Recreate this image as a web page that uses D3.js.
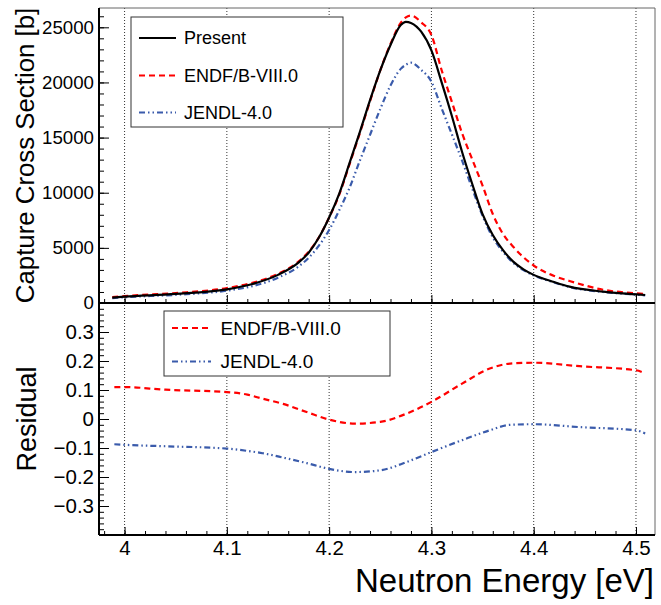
<!DOCTYPE html>
<html>
<head>
<meta charset="utf-8">
<script src="https://d3js.org/d3.v7.min.js"></script>
<style>
  body { margin: 0; background: #fff; }
  svg { display: block; font-family: "Liberation Sans", Arial, Helvetica, sans-serif; }
</style>
</head>
<body>
<svg width="661" height="605"></svg>
<script>
// energies (eV) where the cross sections were read
var energy = [3.988, 4.0, 4.05, 4.1, 4.125, 4.15, 4.17, 4.18, 4.19, 4.2, 4.21, 4.22, 4.23, 4.24, 4.25,
              4.26, 4.27, 4.275, 4.28, 4.29, 4.3, 4.31, 4.32, 4.33, 4.34, 4.35, 4.36, 4.37, 4.38, 4.39,
              4.4, 4.42, 4.435, 4.468, 4.5, 4.509];
// capture cross section [b]
var present = [490, 570, 820, 1240, 1720, 2550, 3660, 4560, 5940, 7760, 9950, 12700, 15500, 18400, 21100,
               23400, 25200, 25500, 25400, 24600, 22900, 20010, 16960, 13690, 10770, 8060, 6170, 4800, 3750, 3050,
               2550, 1900, 1480, 1030, 790, 725];
var endf = [540, 630, 900, 1350, 1830, 2650, 3750, 4650, 5950, 7750, 9850, 12600, 15400, 18300, 21100,
            23500, 25400, 25900, 26070, 25450, 24300, 21110, 18240, 15390, 13000, 10650, 8070, 6260, 5100, 4150,
            3400, 2450, 2000, 1200, 880, 815];
var jendl = [440, 520, 740, 1120, 1530, 2300, 3300, 4100, 5200, 6620, 8430, 10460, 12900, 15250, 17590,
             19720, 21230, 21600, 21790, 21140, 20070, 17650, 15300, 12900, 10350, 7900, 5950, 4650, 3650, 2980,
             2500, 1860, 1450, 1000, 760, 690];

// residuals
var resEnergy = [3.99, 4.0, 4.04, 4.1, 4.12, 4.135, 4.155, 4.178, 4.2, 4.225, 4.25, 4.276, 4.3, 4.33,
                 4.357, 4.377, 4.4, 4.445, 4.5, 4.509];
var resEndf = [0.110, 0.110, 0.101, 0.093, 0.084, 0.070, 0.052, 0.024, -0.002, -0.016, -0.010, 0.019, 0.059, 0.122,
               0.174, 0.191, 0.194, 0.182, 0.168, 0.157];
var resJendl = [-0.087, -0.089, -0.094, -0.102, -0.110, -0.118, -0.133, -0.152, -0.172, -0.183, -0.177, -0.148, -0.114, -0.073,
                -0.039, -0.020, -0.018, -0.028, -0.039, -0.050];

// tick values
var xMajor = [4.0, 4.1, 4.2, 4.3, 4.4, 4.5];
var yTopMajor = [0, 5000, 10000, 15000, 20000, 25000];
var yBotMajor = [-0.3, -0.2, -0.1, 0, 0.1, 0.2, 0.3];

var legendTop = ["Present", "ENDF/B-VIII.0", "JENDL-4.0"];
var legendBot = ["ENDF/B-VIII.0", "JENDL-4.0"];

var svg = d3.select("svg");
var font = "'Liberation Sans', Arial, Helvetica, sans-serif";

var styles = {
  "Present": {color: "#000", dash: null},
  "ENDF/B-VIII.0": {color: "#ff0000", dash: "6,4"},
  "JENDL-4.0": {color: "#3a5bab", dash: "6,3,1.5,3,1.5,3"}
};

//////////// SCALES ////////////
var padLeft = 99, padRight = 655, padTop = 8, padMid = 303, padBottom = 535;

var x = d3.scaleLinear().domain([3.975, 4.5186]).range([padLeft, padRight]);
var yTop = d3.scaleLinear().domain([0, 26750]).range([padMid, padTop]);
var yBot = d3.scaleLinear().domain([-0.4, 0.4]).range([padBottom, padMid]);

var xMinor = d3.range(3.98, 4.515, 0.02).map(function(d) { return +d.toFixed(2); });
var yTopMinor = d3.range(0, 26001, 1000);
var yBotMinor = d3.range(-0.38, 0.385, 0.02).map(function(d) { return +d.toFixed(2); });

//////////// GRID ////////////
svg.append("g")
    .selectAll("line")
    .data(xMajor)
    .enter().append("line")
    .attr("x1", function(d) { return x(d); })
    .attr("x2", function(d) { return x(d); })
    .attr("y1", padTop)
    .attr("y2", padBottom)
    .attr("stroke", "#333")
    .attr("stroke-width", 1)
    .attr("stroke-dasharray", "1,2");

//////////// AXES ////////////
function styleAxis(g) {
  g.select(".domain").remove();
  g.selectAll("line").attr("stroke", "#000").attr("stroke-width", 1);
  g.selectAll("text").attr("fill", "#000").attr("font-family", font);
}

// upper y axis
svg.append("g")
    .attr("transform", "translate(" + padLeft + ",0)")
    .call(d3.axisLeft(yTop).tickValues(yTopMinor).tickSize(-5).tickFormat(""))
    .call(styleAxis);
svg.append("g")
    .attr("transform", "translate(" + padLeft + ",0)")
    .call(d3.axisLeft(yTop).tickValues(yTopMajor).tickSize(-10).tickPadding(5).tickFormat(d3.format("d")))
    .call(styleAxis)
    .selectAll("text").attr("font-size", "18.7px");

// lower y axis
svg.append("g")
    .attr("transform", "translate(" + padLeft + ",0)")
    .call(d3.axisLeft(yBot).tickValues(yBotMinor).tickSize(-5).tickFormat(""))
    .call(styleAxis);
svg.append("g")
    .attr("transform", "translate(" + padLeft + ",0)")
    .call(d3.axisLeft(yBot).tickValues(yBotMajor).tickSize(-10).tickPadding(5)
      .tickFormat(function(d) { return d === 0 ? "0" : d3.format(".1f")(d); }))
    .call(styleAxis)
    .selectAll("text").attr("font-size", "20.5px");

// x ticks on both panels
[padMid, padBottom].forEach(function(yy) {
  svg.append("g")
      .attr("transform", "translate(0," + yy + ")")
      .call(d3.axisBottom(x).tickValues(xMinor).tickSize(-4).tickFormat(""))
      .call(styleAxis);
  svg.append("g")
      .attr("transform", "translate(0," + yy + ")")
      .call(d3.axisBottom(x).tickValues(xMajor).tickSize(-8).tickFormat(""))
      .call(styleAxis);
});
svg.append("g")
    .attr("transform", "translate(0," + padBottom + ")")
    .call(d3.axisBottom(x).tickValues(xMajor).tickSize(0).tickPadding(5)
      .tickFormat(function(d) { return d === 4 ? "4" : d3.format(".1f")(d); }))
    .call(styleAxis)
    .selectAll("text").attr("font-size", "20.5px");

//////////// CURVES ////////////
function drawLine(xs, ys, yScale, name) {
  var line = d3.line()
      .x(function(d, i) { return x(xs[i]); })
      .y(function(d) { return yScale(d); })
      .curve(d3.curveMonotoneX);
  svg.append("path")
      .datum(ys)
      .attr("d", line)
      .attr("fill", "none")
      .attr("stroke", styles[name].color)
      .attr("stroke-width", 2.2)
      .attr("stroke-dasharray", styles[name].dash);
}

drawLine(energy, jendl, yTop, "JENDL-4.0");
drawLine(energy, endf, yTop, "ENDF/B-VIII.0");
drawLine(energy, present, yTop, "Present");
drawLine(resEnergy, resEndf, yBot, "ENDF/B-VIII.0");
drawLine(resEnergy, resJendl, yBot, "JENDL-4.0");

//////////// FRAME ////////////
// thin grey top/right edges, black axis edges
svg.append("line").attr("x1", padLeft).attr("x2", padRight).attr("y1", padTop).attr("y2", padTop)
    .attr("stroke", "#666").attr("stroke-width", 1);
svg.append("line").attr("x1", padRight).attr("x2", padRight).attr("y1", padTop).attr("y2", padBottom)
    .attr("stroke", "#666").attr("stroke-width", 1);
svg.append("line").attr("x1", padLeft).attr("x2", padLeft).attr("y1", padTop).attr("y2", padBottom)
    .attr("stroke", "#000").attr("stroke-width", 2);
svg.append("line").attr("x1", padLeft).attr("x2", padRight).attr("y1", padMid).attr("y2", padMid)
    .attr("stroke", "#000").attr("stroke-width", 2);
svg.append("line").attr("x1", padLeft).attr("x2", padRight).attr("y1", padBottom).attr("y2", padBottom)
    .attr("stroke", "#000").attr("stroke-width", 2);

//////////// LEGENDS ////////////
function drawLegend(names, bx, by, bw, bh, rowY, lineX1, lineX2, textX, size) {
  var g = svg.append("g");
  g.append("rect")
      .attr("x", bx).attr("y", by).attr("width", bw).attr("height", bh)
      .attr("fill", "#fff").attr("stroke", "#333").attr("stroke-width", 1);
  var row = g.selectAll(".entry")
      .data(names)
      .enter().append("g")
      .attr("transform", function(d, i) { return "translate(0," + rowY[i] + ")"; });
  row.append("line")
      .attr("x1", lineX1).attr("x2", lineX2)
      .attr("stroke", function(d) { return styles[d].color; })
      .attr("stroke-width", 2.2)
      .attr("stroke-dasharray", function(d) { return styles[d].dash; });
  row.append("text")
      .attr("x", textX)
      .attr("dy", "0.35em")
      .attr("font-size", size)
      .attr("fill", "#000")
      .text(function(d) { return d; });
}

drawLegend(legendTop, 131, 17, 212, 110, [38, 75.5, 112.5], 139, 176, 184, "18px");
drawLegend(legendBot, 164, 311, 226, 65, [328, 361.5], 172, 211, 220.5, "19px");

//////////// TITLES ////////////
svg.append("text")
    .attr("transform", "translate(34," + ((padTop + padMid) / 2) + ") rotate(-90)")
    .attr("text-anchor", "middle")
    .attr("font-size", "25.8px")
    .text("Capture Cross Section [b]");
svg.append("text")
    .attr("transform", "translate(36," + ((padMid + padBottom) / 2) + ") rotate(-90)")
    .attr("text-anchor", "middle")
    .attr("font-size", "27px")
    .text("Residual");
svg.append("text")
    .attr("x", 654)
    .attr("y", 592)
    .attr("text-anchor", "end")
    .attr("font-size", "33px")
    .text("Neutron Energy [eV]");
</script>
</body>
</html>
